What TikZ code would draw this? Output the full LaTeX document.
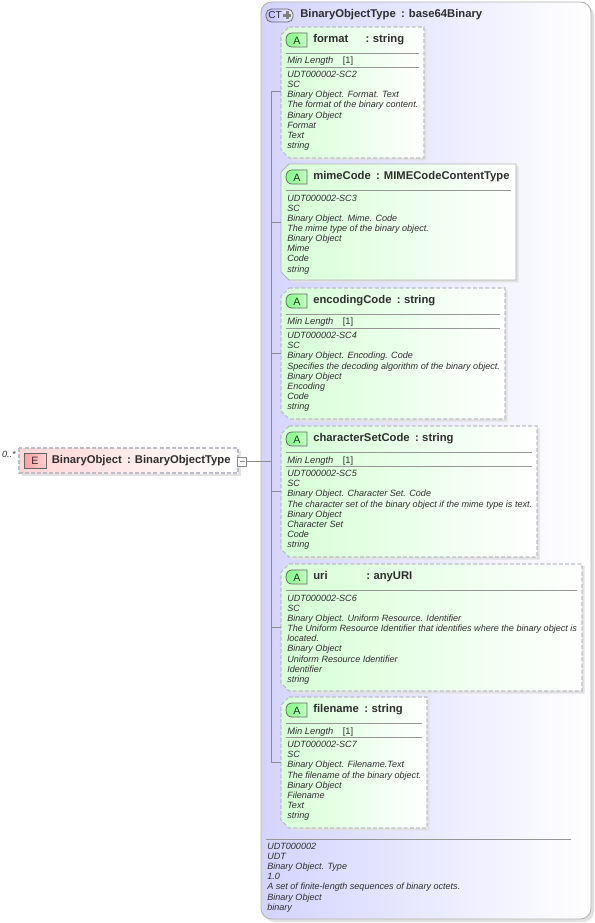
\documentclass[tikz,border=0pt]{standalone}
\usepackage{fontspec}
\setmainfont{Liberation Sans}
\definecolor{dashc}{HTML}{BDBDC8}
\definecolor{solidc}{HTML}{B4B4B4}
\definecolor{linec}{HTML}{8C8C8C}
\definecolor{sepc}{HTML}{969696}
\definecolor{shad}{HTML}{E2E2E2}
\definecolor{txt}{HTML}{2E2E2E}
\tikzset{
  x=0.75pt,y=-0.75pt,
  conn/.style={draw=linec,line width=0.45pt},
  sep/.style={draw=sepc,line width=0.55pt},
  desc/.style={inner sep=0pt,anchor=north west,align=left,text=txt,font=\fontsize{6.8}{7.6}\selectfont\itshape},
  ttl/.style={inner sep=0pt,anchor=base west,text=txt,font=\fontsize{8.45}{10}\selectfont\bfseries},
  minl/.style={inner sep=0pt,anchor=base west,text=txt,font=\fontsize{7}{8}\selectfont},
  badge/.style={inner sep=0pt,text=txt,font=\fontsize{8}{9}\selectfont},
  attrdash/.style={draw=dashc,line width=0.8pt,dash pattern=on 3pt off 1.6pt},
  attrsolid/.style={draw=solidc,line width=0.7pt},
}
% #1 id, #2 x2, #3 y1, #4 y2, #5 border style, #6 title, #7 1 = min length row, #8 text, #9 connector y
\newcommand{\attrbox}[9]{%
  \fill[shad] (284,#3+2) -- (#2+2.5,#3+2) -- (#2+2.5,#4+2.5) -- (292,#4+2.5) -- (284,#4-5) -- cycle;
  \path[left color=green!16!white,right color=white,#5]
     (289,#3) -- (#2,#3) -- (#2,#4) -- (289,#4) -- (281,#4-8) -- (281,#3+8) -- cycle;
  \coordinate (#1-w) at (281,#9);
  \coordinate (#1-s) at (271,#9);
  \path[left color=green!50!white,right color=green!22!white,draw=black!60,line width=0.55pt]
     (307,#3+6) -- (292,#3+6) .. controls (288,#3+6) and (286,#3+9) .. (286,#3+13) .. controls (286,#3+17) and (288,#3+20) .. (292,#3+20) -- (307,#3+20) -- cycle;
  \node[badge] (#1-a) at (297,#3+13.5) {A};
  \node[ttl] (#1-t) at (313,#3+15.3) {#6};
  \draw[conn] (#1-s) -- (#1-w);
  \ifnum#7=1
    \draw[sep] (286,#3+26) -- (#2-5,#3+26);
    \draw[sep] (286,#3+40) -- (#2-5,#3+40);
    \node[minl] (#1-m) at (287,#3+37) {\textit{Min Length}\hspace{7pt}[1]};
    \node[desc] (#1-d) at (287,#3+44) {#8};
  \else
    \draw[sep] (286,#3+26) -- (#2-5,#3+26);
    \node[desc] (#1-d) at (287,#3+30.6) {#8};
  \fi
}
\begin{document}
\begin{tikzpicture}
\useasboundingbox (0,0) rectangle (595,923);
\fill[white] (0,0) rectangle (595,923);
% outer complex type
\fill[shad,rounded corners=8pt] (264,5) rectangle (594,922);
\path[left color=blue!17!white,right color=white,draw=solidc,line width=0.7pt,rounded corners=8pt]
  (261,2) rectangle (591,919);
\path[left color=blue!25!white,right color=blue!8!white,draw=black!60,line width=0.55pt,rounded corners=4pt]
  (266,9) rectangle (293,22);
\node[inner sep=0pt,text=txt,font=\fontsize{7.6}{9}\selectfont] (ct) at (275,15.5) {CT};
\fill[black!50] (283,14) rectangle (291,17);
\fill[black!50] (285.5,11.5) rectangle (288.5,19.5);
\node[ttl] (cttl) at (300,17.5) {BinaryObjectType\hspace{4pt}:\hspace{3pt}base64Binary};
% spine and element
\coordinate (spinetop) at (271,91);
\coordinate (spinebot) at (271,762);
\draw[conn] (spinetop) -- (spinebot);
\attrbox{f}{424}{27}{158}{attrdash}{format\hspace{13pt}:\hspace{2.6pt}string}{1}{UDT000002-SC2\\SC\\Binary Object. Format. Text\\The format of the binary content.\\Binary Object\\Format\\Text\\string}{91}
\attrbox{m}{516}{164}{280}{attrsolid}{mimeCode\hspace{4pt}:\hspace{3pt}MIMECodeContentType}{0}{UDT000002-SC3\\SC\\Binary Object. Mime. Code\\The mime type of the binary object.\\Binary Object\\Mime\\Code\\string}{222}
\attrbox{e}{505}{288}{419}{attrdash}{encodingCode\hspace{4pt}:\hspace{2.6pt}string}{1}{UDT000002-SC4\\SC\\Binary Object. Encoding. Code\\Specifies the decoding algorithm of the binary object.\\Binary Object\\Encoding\\Code\\string}{353}
\attrbox{c}{537}{426}{557}{attrdash}{characterSetCode\hspace{4pt}:\hspace{2.6pt}string}{1}{UDT000002-SC5\\SC\\Binary Object. Character Set. Code\\The character set of the binary object if the mime type is text.\\Binary Object\\Character Set\\Code\\string}{491}
\attrbox{u}{582}{564}{691}{attrdash}{uri\hspace{29pt}:\hspace{2.6pt}anyURI}{0}{UDT000002-SC6\\SC\\Binary Object. Uniform Resource. Identifier\\The Uniform Resource Identifier that identifies where the binary object is\\located.\\Binary Object\\Uniform Resource Identifier\\Identifier\\string}{627}
\attrbox{n}{427}{697}{828}{attrdash}{filename\hspace{4pt}:\hspace{2.6pt}string}{1}{UDT000002-SC7\\SC\\Binary Object. Filename.Text\\The filename of the binary object.\\Binary Object\\Filename\\Text\\string}{762}
% footer
\coordinate (fa) at (266,839);
\coordinate (fb) at (571,839);
\draw[sep] (fa) -- (fb);
\node[desc] (foot) at (267,842.8) {UDT000002\\UDT\\Binary Object. Type\\1.0\\A set of finite-length sequences of binary octets.\\Binary Object\\binary};
% element
\fill[shad] (22,451) rectangle (241,476);
\path[left color=red!16!white,right color=white,draw=dashc,line width=0.8pt,dash pattern=on 3pt off 1.6pt]
  (19,448) rectangle (238,473);
\node[inner sep=0pt,anchor=base east,text=txt,font=\fontsize{6.8}{8}\selectfont\itshape] (mult) at (16,457) {0..*};
\path[left color=red!38!white,right color=red!18!white,draw=black!60,line width=0.55pt]
  (24,453) rectangle (46,468);
\node[badge] (ee) at (35,461) {E};
\node[ttl] (et) at (51.5,463) {BinaryObject\hspace{4pt}:\hspace{3pt}BinaryObjectType};
\coordinate (junc) at (271,461.5);
\node[draw=linec,fill=white,line width=0.45pt,minimum size=7pt,inner sep=0pt] (minus) at (242,461.5) {};
\coordinate (mA) at (239.5,461.5);
\coordinate (mB) at (244.5,461.5);
\draw[conn] (mA) -- (mB);
\draw[conn] (minus) -- (junc);
\end{tikzpicture}
\end{document}
